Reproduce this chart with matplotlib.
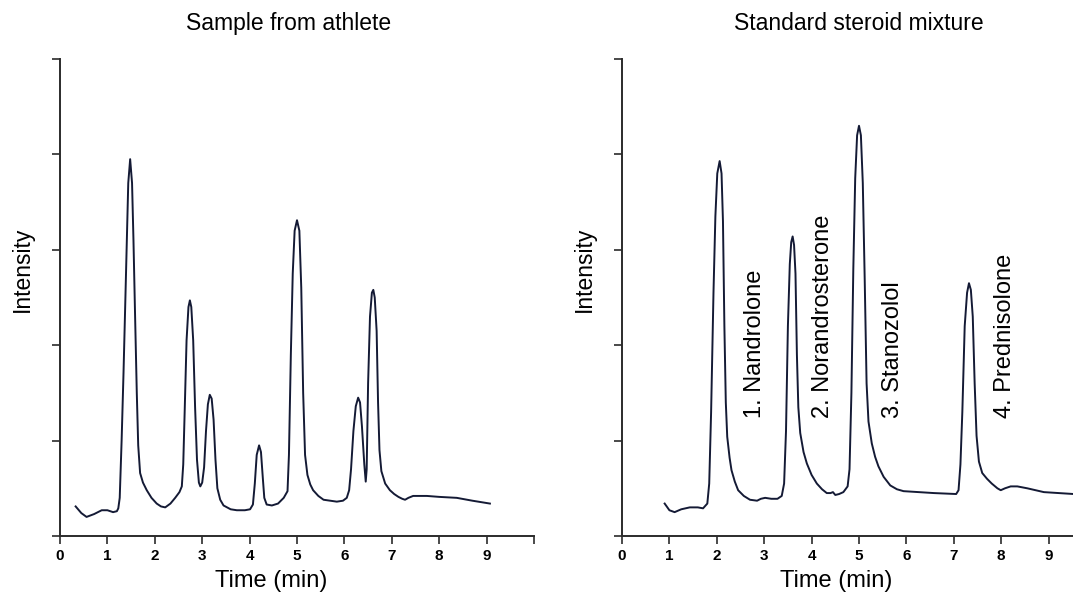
import numpy as np
import matplotlib
matplotlib.use("Agg")
import matplotlib.pyplot as plt

plt.rcParams['font.family'] = ['Liberation Sans', 'DejaVu Sans']

# sample from athlete (time in min, intensity in tick units)
athlete_t = [0.33, 0.45, 0.56, 0.72, 0.88, 1.00, 1.12, 1.20, 1.23, 1.26, 1.30, 1.34, 1.38,
             1.41, 1.44, 1.48, 1.52, 1.55, 1.58, 1.62, 1.65, 1.69, 1.75, 1.83, 1.93, 2.04,
             2.13, 2.22, 2.33, 2.43, 2.52, 2.57, 2.60, 2.63, 2.67, 2.71, 2.74, 2.77, 2.81,
             2.85, 2.89, 2.93, 2.96, 3.00, 3.04, 3.08, 3.12, 3.16, 3.20, 3.24, 3.28, 3.32,
             3.38, 3.45, 3.60, 3.73, 3.90, 4.01, 4.07, 4.11, 4.15, 4.20, 4.24, 4.28, 4.31,
             4.36, 4.47, 4.60, 4.72, 4.80, 4.83, 4.87, 4.91, 4.95, 5.00, 5.05, 5.09, 5.13,
             5.17, 5.22, 5.28, 5.34, 5.45, 5.56, 5.70, 5.84, 5.97, 6.05, 6.10, 6.14, 6.19,
             6.24, 6.29, 6.33, 6.37, 6.42, 6.45, 6.47, 6.50, 6.54, 6.58, 6.61, 6.64, 6.68,
             6.71, 6.74, 6.78, 6.86, 6.96, 7.05, 7.14, 7.22, 7.28, 7.35, 7.45, 7.60, 7.74,
             8.00, 8.37, 8.70, 9.07]
athlete_i = [0.31, 0.24, 0.20, 0.23, 0.27, 0.27, 0.25, 0.26, 0.29, 0.40, 1.00, 1.71, 2.50,
             3.10, 3.70, 3.95, 3.70, 3.10, 2.40, 1.50, 0.95, 0.66, 0.56, 0.48, 0.40, 0.34,
             0.31, 0.30, 0.34, 0.40, 0.46, 0.52, 0.75, 1.30, 2.05, 2.40, 2.47, 2.40, 2.05,
             1.35, 0.80, 0.56, 0.52, 0.56, 0.72, 1.10, 1.38, 1.48, 1.44, 1.22, 0.80, 0.50,
             0.38, 0.32, 0.28, 0.27, 0.27, 0.28, 0.33, 0.55, 0.85, 0.95, 0.88, 0.60, 0.40,
             0.33, 0.32, 0.34, 0.40, 0.47, 0.85, 1.90, 2.75, 3.20, 3.31, 3.20, 2.60, 1.50,
             0.85, 0.64, 0.54, 0.48, 0.42, 0.38, 0.37, 0.36, 0.37, 0.40, 0.48, 0.70, 1.10,
             1.36, 1.45, 1.40, 1.15, 0.75, 0.57, 0.70, 1.60, 2.30, 2.55, 2.58, 2.50, 2.15,
             1.40, 0.90, 0.68, 0.55, 0.48, 0.44, 0.41, 0.39, 0.38, 0.40, 0.42, 0.42, 0.42,
             0.41, 0.40, 0.37, 0.34]

# standard steroid mixture
standard_t = [0.90, 1.00, 1.11, 1.25, 1.43, 1.60, 1.71, 1.80, 1.84, 1.88, 1.93, 1.97, 2.01,
              2.06, 2.10, 2.13, 2.16, 2.19, 2.22, 2.27, 2.31, 2.38, 2.45, 2.57, 2.70, 2.85,
              2.93, 3.02, 3.15, 3.28, 3.37, 3.42, 3.46, 3.50, 3.54, 3.57, 3.60, 3.63, 3.66,
              3.69, 3.72, 3.76, 3.83, 3.90, 4.00, 4.11, 4.22, 4.32, 4.40, 4.45, 4.50, 4.58,
              4.67, 4.76, 4.80, 4.84, 4.88, 4.92, 4.96, 5.00, 5.04, 5.08, 5.12, 5.16, 5.20,
              5.27, 5.34, 5.41, 5.52, 5.66, 5.80, 5.94, 6.58, 7.05, 7.10, 7.14, 7.18, 7.23,
              7.28, 7.32, 7.36, 7.40, 7.44, 7.48, 7.53, 7.60, 7.70, 7.80, 7.92, 7.99, 8.08,
              8.20, 8.34, 8.55, 8.90, 9.53, 9.80]
standard_i = [0.34, 0.27, 0.25, 0.28, 0.30, 0.30, 0.29, 0.34, 0.55, 1.30, 2.55, 3.35, 3.80,
              3.93, 3.80, 3.30, 2.20, 1.40, 1.04, 0.82, 0.69, 0.57, 0.48, 0.42, 0.38, 0.37,
              0.39, 0.40, 0.39, 0.39, 0.42, 0.55, 1.10, 2.20, 2.85, 3.08, 3.14, 3.05, 2.75,
              1.90, 1.35, 1.08, 0.88, 0.76, 0.64, 0.55, 0.49, 0.45, 0.45, 0.46, 0.43, 0.44,
              0.46, 0.52, 0.70, 1.50, 2.80, 3.75, 4.20, 4.30, 4.20, 3.70, 2.70, 1.60, 1.20,
              0.97, 0.83, 0.73, 0.62, 0.53, 0.49, 0.47, 0.45, 0.44, 0.48, 0.75, 1.30, 2.20,
              2.55, 2.65, 2.58, 2.30, 1.60, 1.05, 0.78, 0.66, 0.60, 0.55, 0.50, 0.48, 0.50,
              0.52, 0.52, 0.50, 0.46, 0.44, 0.44]

peak_names = ['1. Nandrolone', '2. Norandrosterone', '3. Stanozolol', '4. Prednisolone']
label_t = [2.81, 4.25, 5.72, 8.09]
label_base = 1.24

xticks = list(range(0, 11))
xticklabels = [str(v) for v in range(10)] + ['']

line_color = '#141a35'
spine_color = '#2b2b2b'

fig = plt.figure(figsize=(10.73, 5.97), dpi=100)
ax1 = fig.add_axes([60 / 1073, 61 / 597, 474 / 1073, 477 / 597])
ax2 = fig.add_axes([622 / 1073, 61 / 597, 474 / 1073, 477 / 597])


def style_axes(ax, title, title_x, xlabel_x):
    ax.set_xlim(0, 10)
    ax.set_ylim(0, 5)
    for side in ['top', 'right']:
        ax.spines[side].set_visible(False)
    for side in ['left', 'bottom']:
        ax.spines[side].set_color(spine_color)
        ax.spines[side].set_linewidth(1.4)
    ax.set_xticks(xticks)
    ax.set_xticklabels(xticklabels, fontsize=11, fontweight='bold')
    ax.set_yticks(range(6))
    ax.set_yticklabels([])
    ax.tick_params(axis='both', length=6, width=1.2, color=spine_color, pad=3)
    ax.set_xlabel('Time (min)', fontsize=17)
    ax.xaxis.set_label_coords(xlabel_x, -0.072)
    ax.set_ylabel('Intensity', fontsize=16.5)
    ax.yaxis.set_label_coords(-0.056, 0.56)
    ax.text(title_x, 1.075, title, transform=ax.transAxes, fontsize=16.5,
            ha='center', va='center')


ax1.plot(athlete_t, athlete_i, color=line_color, lw=1.4)
style_axes(ax1, 'Sample from athlete', 0.483, 0.445)

ax2.plot(standard_t, standard_i, color=line_color, lw=1.4)
style_axes(ax2, 'Standard steroid mixture', 0.5, 0.452)
for name, t in zip(peak_names, label_t):
    ax2.text(t, label_base, name, rotation=90, ha='center', va='bottom', fontsize=17)

fig.savefig('out.png', dpi=100)
